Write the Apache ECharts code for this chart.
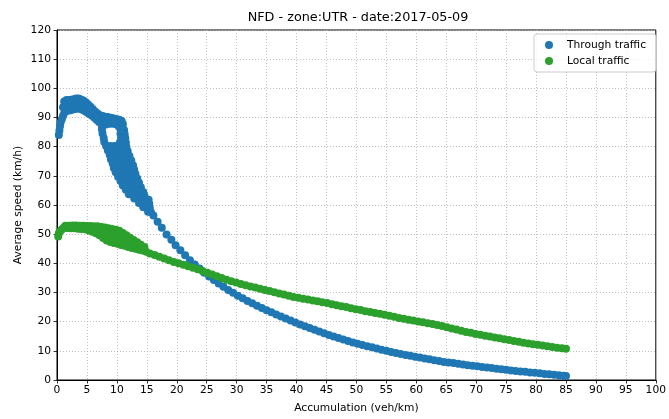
<!DOCTYPE html>
<html>
<head>
<meta charset="utf-8">
<script src="https://cdn.jsdelivr.net/npm/echarts@6.0.0/dist/echarts.min.js"></script>
<style>
html,body{margin:0;padding:0;background:#fff;}
#chart{width:669px;height:419px;}
</style>
</head>
<body>
<div id="chart"></div>
<script>
// ---- Data ----
const chartTitle = 'NFD - zone:UTR - date:2017-05-09';
const xAxisName = 'Accumulation (veh/km)';
const yAxisName = 'Average speed (km/h)';
const seriesNames = ['Through traffic', 'Local traffic'];

// Through traffic: [accumulation (veh/km), average speed (km/h)]
const throughTraffic = [
  [0.3,84.0],[0.4,85.5],[0.5,87.0],[0.6,88.3],[0.8,89.4],[1.0,90.5],[1.2,91.5],[1.5,92.3],
  [1.0,93.5],[1.2,95.5],[1.6,96.0],[2.0,96.0],[2.4,96.1],[2.8,96.3],[3.2,96.5],[3.6,96.5],[4.0,96.2],[4.4,95.8],[4.8,95.2],
  [1.5,94.3],[2.0,94.5],[2.5,94.8],[3.0,95.0],[3.5,95.0],[4.0,94.7],[4.5,94.2],[5.0,93.6],
  [1.8,92.3],[2.3,92.5],[2.8,92.8],[3.3,93.0],[3.8,93.0],[4.3,92.6],[4.8,92.0],[5.3,91.3],
  [5.2,94.5],[5.6,93.7],[6.0,92.8],[6.4,92.0],[6.8,91.3],[7.2,90.8],[7.6,90.5],[8.0,90.3],[8.4,90.2],[8.8,90.0],[9.2,89.8],[9.6,89.6],[10.0,89.4],[10.4,89.2],[10.8,88.8],
  [5.8,90.7],[6.2,90.0],[6.6,89.2],[7.0,88.5],
  [7.6,88.6],[8.3,88.6],[9.0,88.5],[9.7,88.3],[10.4,88.0],[11.0,87.8],
  [7.5,87.2],[8.2,87.6],[8.9,87.9],[9.6,87.8],[10.3,87.0],[10.9,86.8],
  [7.5,86.0],[10.6,85.9],[11.2,85.7],
  [7.6,84.5],[10.6,84.4],[11.3,84.3],
  [7.8,83.0],[10.7,83.0],[11.4,82.9],
  [7.9,81.6],[10.5,81.4],[11.5,81.4],
  [8.2,80.2],[8.9,80.2],[9.6,80.2],[10.3,80.1],[11.0,80.0],[11.6,79.9],
  [8.5,78.7],[9.2,78.7],[9.9,78.7],[10.6,78.6],[11.3,78.5],[11.8,78.4],
  [8.8,77.2],[9.5,77.2],[10.2,77.2],[10.9,77.1],[11.6,77.0],[12.1,76.8],
  [9.0,75.7],[9.7,75.7],[10.4,75.7],[11.1,75.6],[11.8,75.5],[12.4,75.3],
  [9.3,74.2],[9.9,74.2],[11.1,74.1],[11.7,74.0],[12.3,73.9],[12.7,73.6],
  [9.5,72.7],[10.1,72.6],[11.0,72.6],[11.7,72.5],[12.3,72.4],[12.9,72.1],
  [9.8,71.2],[10.5,71.2],[11.2,71.1],[11.9,71.0],[12.5,70.9],[13.1,70.6],
  [10.2,69.7],[10.9,69.7],[11.6,69.6],[12.2,69.5],[12.8,69.4],[13.4,69.1],
  [10.6,68.2],[11.3,68.2],[12.0,68.1],[12.6,68.0],[13.1,67.9],[13.7,67.6],
  [11.0,66.7],[11.7,66.7],[12.4,66.6],[13.0,66.5],[13.5,66.4],[14.0,66.1],
  [11.5,65.2],[12.2,65.2],[12.9,65.1],[13.5,65.0],[14.0,64.8],[14.4,64.5],
  [12.0,63.7],[12.7,63.7],[13.4,63.6],[14.0,63.5],[14.6,63.3],
  [12.9,62.2],[13.5,62.2],[14.1,62.1],[14.7,62.0],[15.3,61.8],
  [13.7,60.7],[14.3,60.7],[14.8,60.6],[15.4,60.4],
  [14.4,59.2],[15.0,59.2],[15.5,59.0],
  [15.2,57.7],[15.7,57.5],
  [16.1,56.4],[16.8,54.3],[17.5,52.2],[18.3,49.9],[19.1,48.1],[19.8,46.2],[20.6,44.5],[21.4,42.8],[22.2,41.1],
  [23.0,39.6],[23.8,38.2],[24.6,36.8],[25.4,35.5],[26.2,34.3],[27.0,33.1],[27.8,32.0],[28.6,30.9],[29.4,29.9],
  [30.2,28.9],[31.0,28.0],[31.8,27.1],[32.6,26.3],[33.4,25.5],[34.2,24.7],[35.0,23.9],[35.8,23.2],[36.6,22.5],
  [37.4,21.8],[38.2,21.1],[39.0,20.4],[39.8,19.7],[40.6,19.0],[41.4,18.4],[42.2,17.8],[43.0,17.2],[43.8,16.6],
  [44.6,16.0],[45.4,15.4],[46.2,14.9],[47.0,14.4],[47.8,13.9],[48.6,13.4],[49.4,12.9],
  [50.2,12.4],[51.0,12.0],[51.8,11.6],[52.6,11.2],[53.4,10.8],[54.2,10.4],[55.0,10.0],[55.8,9.6],[56.6,9.3],
  [57.4,8.9],[58.2,8.6],[59.0,8.3],[59.8,8.0],[60.6,7.7],[61.4,7.4],[62.2,7.1],[63.0,6.8],[63.8,6.5],
  [64.6,6.2],[65.4,6.0],[66.2,5.8],[67.0,5.6],[67.8,5.3],[68.6,5.1],[69.4,4.9],[70.2,4.7],[71.0,4.5],
  [71.8,4.3],[72.6,4.1],[73.4,3.9],[74.2,3.7],[75.0,3.5],[75.8,3.3],[76.6,3.1],[77.4,2.9],[78.2,2.8],
  [79.0,2.6],[79.8,2.5],[80.6,2.3],[81.4,2.1],[82.2,2.0],[83.0,1.8],[83.8,1.6],[84.6,1.5],[85.0,1.4]
];

// Local traffic: [accumulation (veh/km), average speed (km/h)]
const localTraffic = [
  [0.2,49.2],[0.3,50.3],[0.5,51.0],[0.8,51.6],[1.1,52.2],
  [1.4,52.9],[2.0,52.9],[2.6,53.0],[3.2,53.0],[3.8,52.9],[4.4,52.9],[5.0,52.8],[5.6,52.8],[6.2,52.7],[6.8,52.7],
  [7.4,52.5],[8.0,52.3],[8.6,52.0],[9.2,51.8],[9.8,51.5],[10.4,51.2],[11.0,50.4],[11.6,49.6],[12.2,48.8],
  [12.8,48.0],[13.4,47.2],[14.0,46.4],[14.6,45.6],
  [1.7,52.1],[2.3,52.0],[2.9,52.0],[3.5,51.9],[4.1,51.8],[4.7,51.7],[5.3,51.3],[5.9,50.8],[6.5,50.3],
  [7.1,49.6],[7.7,48.7],[8.3,47.8],[8.9,47.3],[9.5,47.0],[10.1,46.7],[10.7,46.3],[11.3,46.0],[11.9,45.6],
  [12.5,45.3],[13.1,45.0],[13.7,44.7],[14.3,44.4],[14.9,44.0],
  [6.8,51.5],[7.4,51.2],[8.0,50.8],[8.6,50.6],[9.2,50.4],[9.8,50.2],[10.4,49.8],[11.0,49.0],[11.6,48.2],
  [12.2,47.4],[12.8,46.6],[13.4,46.0],
  [7.6,50.0],[8.2,49.3],[8.8,49.2],[9.4,49.0],[10.0,48.8],[10.6,48.5],[11.2,47.8],[11.8,47.0],[12.4,46.3],
  [8.5,48.5],[9.1,48.2],[9.7,47.9],[10.3,47.6],[10.9,47.2],[11.5,46.8],
  [15.5,43.4],[16.3,42.9],[17.1,42.3],[17.9,41.7],[18.7,41.1],[19.5,40.5],[20.3,40.0],[21.1,39.5],[21.9,39.0],
  [22.7,38.5],[23.5,38.0],[24.3,37.4],[25.1,36.8],[25.9,36.2],[26.7,35.6],[27.5,35.0],[28.3,34.4],[29.1,33.9],
  [29.9,33.4],[30.7,32.9],[31.5,32.5],[32.3,32.1],[33.1,31.7],[33.9,31.3],[34.7,30.9],[35.5,30.5],[36.3,30.1],
  [37.1,29.7],[37.9,29.3],[38.7,28.9],[39.5,28.5],[40.3,28.2],[41.1,27.9],[41.9,27.6],[42.7,27.3],[43.5,27.0],
  [44.3,26.7],[45.1,26.4],[45.9,26.0],[46.7,25.6],[47.5,25.3],[48.3,25.0],[49.1,24.6],[49.9,24.3],[50.7,24.0],
  [51.5,23.6],[52.3,23.3],[53.1,23.0],[53.9,22.7],[54.7,22.4],[55.5,22.0],[56.3,21.7],[57.1,21.3],[57.9,21.0],
  [58.7,20.7],[59.5,20.4],[60.3,20.1],[61.1,19.8],[61.9,19.5],[62.7,19.2],[63.5,18.9],[64.3,18.5],[65.1,18.1],
  [65.9,17.7],[66.7,17.3],[67.5,16.9],[68.3,16.5],[69.1,16.2],[69.9,15.8],[70.7,15.5],[71.5,15.2],[72.3,14.9],
  [73.1,14.6],[73.9,14.3],[74.7,14.0],[75.5,13.7],[76.3,13.4],[77.1,13.1],[77.9,12.8],[78.7,12.5],[79.5,12.3],
  [80.3,12.1],[81.1,11.8],[81.9,11.6],[82.7,11.3],[83.5,11.1],[84.3,10.9],[85.0,10.7]
];

const xRange = {min: 0, max: 100, interval: 5};
const yRange = {min: 0, max: 120, interval: 10};

// ---- Chart ----
const FONT = 'DejaVu Sans';
const FS = 10.7;
const chart = echarts.init(document.getElementById('chart'), null, {renderer: 'canvas'});
const gridLine = {show: true, lineStyle: {type: [1, 2], color: '#b0b0b0', width: 0.8}};
const axisCommon = {
  axisLine: {show: true, onZero: false, lineStyle: {color: '#000', width: 1}},
  axisTick: {show: true, inside: false, length: 3.5, lineStyle: {color: '#000', width: 0.8}},
  axisLabel: {color: '#000', fontFamily: FONT, fontSize: FS},
  splitLine: gridLine,
  nameTextStyle: {color: '#000', fontFamily: FONT, fontSize: FS}
};

chart.setOption({
  animation: false,
  backgroundColor: '#fff',
  grid: {left: 57, right: 11, top: 30, bottom: 38, show: true, borderColor: '#000', borderWidth: 1, backgroundColor: 'transparent'},
  graphic: [{
    type: 'text',
    style: {text: chartTitle, x: 358, y: 18, textAlign: 'center', textVerticalAlign: 'middle',
            font: '12.8px "DejaVu Sans"', fill: '#000'}
  }],
  legend: {
    left: 534, top: 34, orient: 'vertical',
    icon: 'circle', itemWidth: 8, itemHeight: 8, itemGap: 5,
    padding: [5.5, 10, 5.5, 11],
    backgroundColor: 'rgba(255,255,255,0.8)', borderColor: '#cccccc', borderWidth: 1, borderRadius: 3,
    textStyle: {color: '#000', fontFamily: FONT, fontSize: FS, padding: [0, 0, 0, 9]},
    data: seriesNames
  },
  xAxis: Object.assign({}, axisCommon, {
    type: 'value', min: xRange.min, max: xRange.max, interval: xRange.interval,
    name: xAxisName, nameLocation: 'middle', nameGap: 23,
    axisLabel: Object.assign({}, axisCommon.axisLabel, {margin: 5})
  }),
  yAxis: Object.assign({}, axisCommon, {
    type: 'value', min: yRange.min, max: yRange.max, interval: yRange.interval,
    name: yAxisName, nameLocation: 'middle', nameGap: 33, nameRotate: 90, nameMoveOverlap: false,
    axisLabel: Object.assign({}, axisCommon.axisLabel, {margin: 6})
  }),
  series: [
    {name: seriesNames[0], type: 'scatter', data: throughTraffic, symbol: 'circle', symbolSize: 8,
     itemStyle: {color: '#1f77b4', opacity: 1}, emphasis: {disabled: true}},
    {name: seriesNames[1], type: 'scatter', data: localTraffic, symbol: 'circle', symbolSize: 8,
     itemStyle: {color: '#2ca02c', opacity: 1}, emphasis: {disabled: true}}
  ]
});
</script>
</body>
</html>
